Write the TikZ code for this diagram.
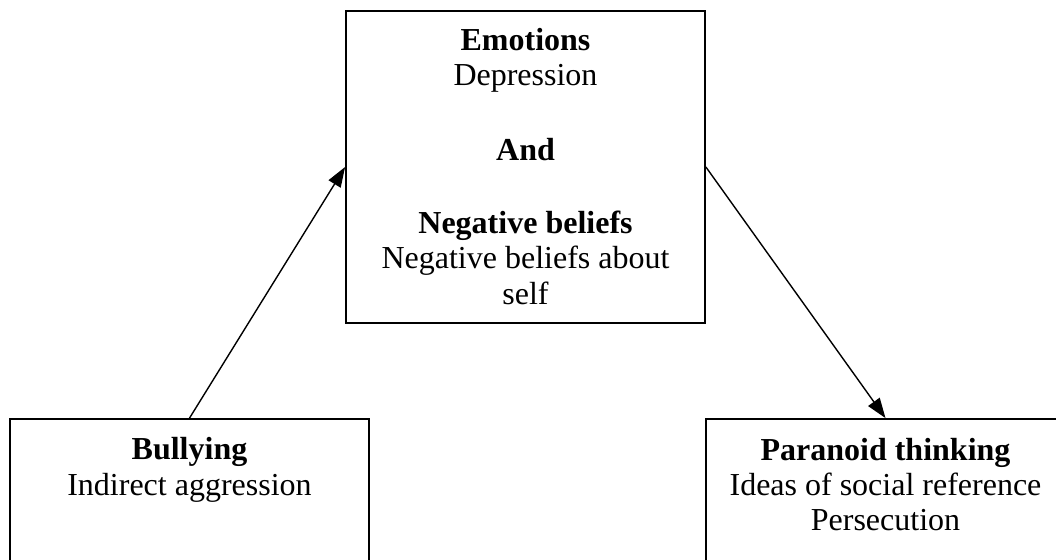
\documentclass[tikz,border=0pt]{standalone}
\usepackage{fontspec}
\setmainfont{Liberation Serif}
\usetikzlibrary{arrows.meta}
\tikzset{
  box/.style={draw=black, line width=1.8pt, fill=none, inner sep=0pt, rectangle},
  txt/.style={inner sep=0pt, anchor=base, font=\fontsize{32}{36}\selectfont},
  hd/.style={txt, font=\fontsize{32}{36}\selectfont\bfseries},
  conn/.style={line width=1.4pt, -{Triangle[length=20pt,width=14pt]}}
}
\begin{document}
\begin{tikzpicture}[x=1pt,y=-1pt]
\useasboundingbox (0,0) rectangle (1056,559);
\fill[white] (0,0) rectangle (1056,559);
\clip (0,0) rectangle (1056,559);
% boxes
\node[box, minimum width=359pt, minimum height=312pt] (top) at (525.5,167) {};
\node[box, minimum width=359pt, minimum height=170pt] (bl) at (189.5,504) {};
\node[box, minimum width=359pt, minimum height=170pt] (br) at (885.5,504) {};
% top box text
\node[hd] (t1) at (525.5,50.7) {Emotions};
\node[txt] (t2) at (525.5,86) {Depression};
\node[hd] (t3) at (525.5,160) {And};
\node[hd] (t4) at (525.5,233) {Negative beliefs};
\node[txt] (t5) at (525.5,268) {Negative beliefs about};
\node[txt] (t6) at (525.5,304) {self};
% bottom-left text
\node[hd] (l1) at (189.5,459) {Bullying};
\node[txt] (l2) at (189.5,495) {Indirect aggression};
% bottom-right text
\node[hd] (r1) at (885.5,460) {Paranoid thinking};
\node[txt] (r2) at (885.5,495) {Ideas of social reference};
\node[txt] (r3) at (885.5,530) {Persecution};
% connectors
\draw[conn] (bl.north) -- (top.west);
\draw[conn] (top.east) -- (br.north);
\end{tikzpicture}
\end{document}
